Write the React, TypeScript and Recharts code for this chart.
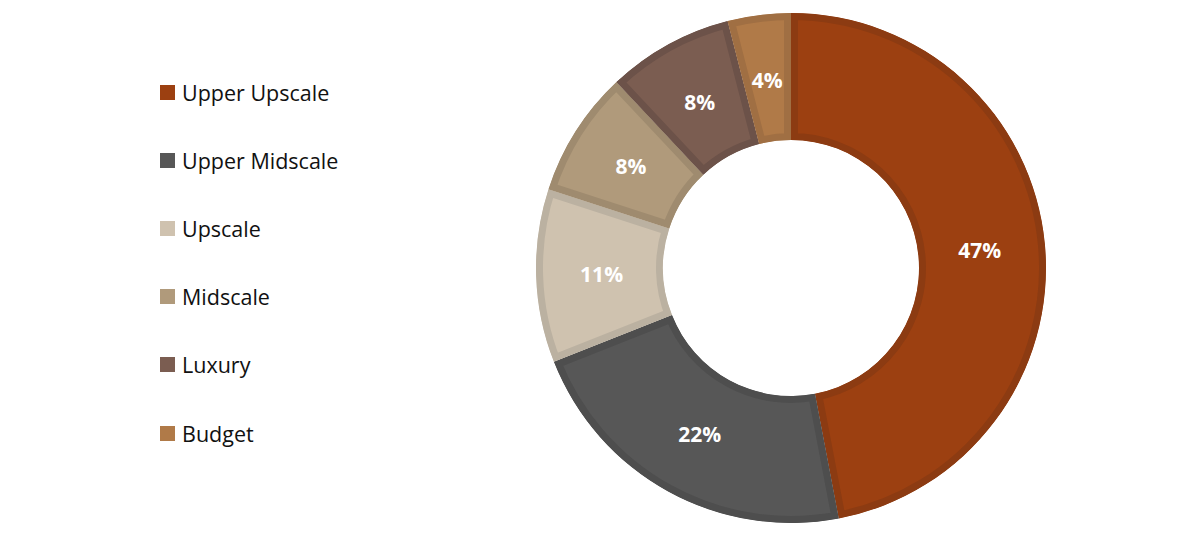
import React from 'react';
import { PieChart, Pie, Cell, Sector } from 'recharts';

const categories = ['Upper Upscale', 'Upper Midscale', 'Upscale', 'Midscale', 'Luxury', 'Budget'];
const shares = [47, 22, 11, 8, 8, 4];
const fills = ['#9C4011', '#575757', '#CFC2AF', '#B09A7B', '#7B5D51', '#B07A48'];
const borders = ['#8C3B12', '#4E4E4E', '#BBB1A1', '#9F8B6F', '#6C5249', '#A06F43'];

const data = categories.map((name, i) => ({ name, value: shares[i] }));

const RAD = Math.PI / 180;

const renderLabel = (props: any) => {
  const { cx, cy, midAngle, innerRadius, outerRadius, value } = props;
  const r = (innerRadius + outerRadius) / 2 - 2;
  const x = cx + r * Math.cos(-midAngle * RAD);
  const y = cy + r * Math.sin(-midAngle * RAD);
  return (
    <text
      x={x}
      y={y}
      fill="#ffffff"
      textAnchor="middle"
      dominantBaseline="central"
      fontFamily="'Open Sans', sans-serif"
      fontWeight={700}
      fontSize={21}
    >
      {value}%
    </text>
  );
};

// border drawn on the inside of each slice, like the spreadsheet
const insetSlice = (props: any) => {
  const id = 'clip-' + String(props.name).replace(/\s+/g, '-');
  return (
    <g>
      <defs>
        <clipPath id={id}>
          <Sector {...props} stroke="none" />
        </clipPath>
      </defs>
      <Sector {...props} strokeWidth={14} clipPath={`url(#${id})`} />
    </g>
  );
};

export default function App() {
  return (
    <div style={{ position: 'absolute', left: 0, top: 0, width: 1188, height: 542, background: '#fff' }}>
      <div
        style={{
          position: 'absolute',
          left: 160,
          top: 58,
          fontFamily: "'Open Sans', sans-serif",
          fontSize: 21.5,
          color: '#111',
        }}
      >
        {categories.map((name, i) => (
          <div key={name} style={{ display: 'flex', alignItems: 'center', height: 68.2 }}>
            <span
              style={{
                display: 'inline-block',
                width: 15,
                height: 15,
                background: fills[i],
                marginRight: 7,
              }}
            />
            <span>{name}</span>
          </div>
        ))}
      </div>
      <PieChart width={1188} height={542} margin={{ top: 0, right: 0, bottom: 0, left: 0 }}>
        <Pie
          data={data}
          dataKey="value"
          nameKey="name"
          cx={791}
          cy={268}
          innerRadius={128}
          outerRadius={255}
          startAngle={90}
          endAngle={-270}
          paddingAngle={0}
          labelLine={false}
          label={renderLabel}
          shape={insetSlice}
          isAnimationActive={false}
        >
          {data.map((d, i) => (
            <Cell key={d.name} fill={fills[i]} stroke={borders[i]} />
          ))}
        </Pie>
      </PieChart>
    </div>
  );
}
